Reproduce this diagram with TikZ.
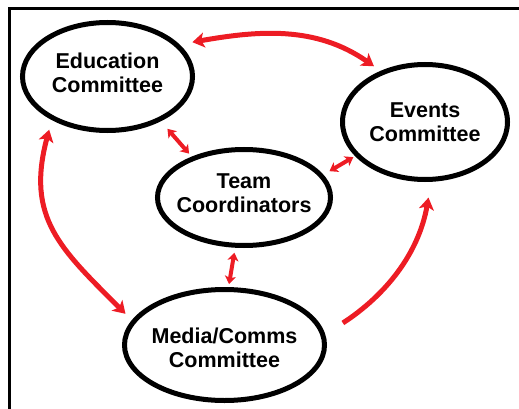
\documentclass[tikz,border=0pt]{standalone}
\usepackage{fontspec}
\setmainfont{Liberation Sans}
\usetikzlibrary{arrows.meta,shapes.geometric}
\definecolor{linkred}{RGB}{237,28,36}

\begin{document}
\begin{tikzpicture}[x=1pt,y=1pt,
  committee/.style={ellipse, draw=black, line width=5pt, inner sep=0pt},
  caption/.style={align=center, inner sep=0pt, font=\fontsize{21.5}{24}\selectfont\bfseries},
  oneway/.style={draw=linkred, line width=5pt, -{Stealth[length=12pt,width=15pt,inset=3pt]}},
  twoway/.style={draw=linkred, line width=5pt,
    {Stealth[length=12pt,width=15pt,inset=3pt]}-{Stealth[length=12pt,width=15pt,inset=3pt]}},
  shortlink/.style={draw=linkred, line width=4pt,
    {Stealth[length=8pt,width=11pt,inset=2pt]}-{Stealth[length=8pt,width=11pt,inset=2pt]}}
]
\useasboundingbox (0,0) rectangle (519,-409);

% frame (left and top edges)
\draw[line width=3pt] (9.5,-409) -- (9.5,-8.5) -- (519,-8.5);

% committees
\node[committee, minimum width=170pt, minimum height=108pt,
  label={[caption, yshift=4pt]center:{Education\\Committee}}] (edu) at (107.5,-76.5) {};
\node[committee, minimum width=165pt, minimum height=115pt,
  label={[caption]center:{Events\\Committee}}] (events) at (425,-122) {};
\node[committee, minimum width=173pt, minimum height=96pt,
  label={[caption, yshift=4pt]center:{Team\\Coordinators}}] (team) at (244,-197.5) {};
\node[committee, minimum width=200pt, minimum height=111pt,
  label={[caption, yshift=-3pt]center:{Media/Comms\\Committee}}] (media) at (224.5,-345) {};

% links between the outer committees
\draw[twoway, shorten <=13pt, shorten >=8pt] (edu.24) to[out=10,in=145] (events.131);
\draw[twoway, shorten <=10pt, shorten >=9pt] (edu.218) to[out=255,in=135,looseness=1.2] (media.165);
\draw[oneway, shorten <=21pt, shorten >=16pt] (media.6) to[out=33,in=-100] (events.-84);

% links to the coordinators
\draw[shortlink, shorten <=10pt, shorten >=4pt] (edu.-40) -- (team.142);
\draw[shortlink, shorten <=7pt, shorten >=2pt] (team.16) -- (events.206);
\draw[shortlink, shorten <=5pt, shorten >=3pt] (team.-100) -- (media.86);
\end{tikzpicture}
\end{document}
